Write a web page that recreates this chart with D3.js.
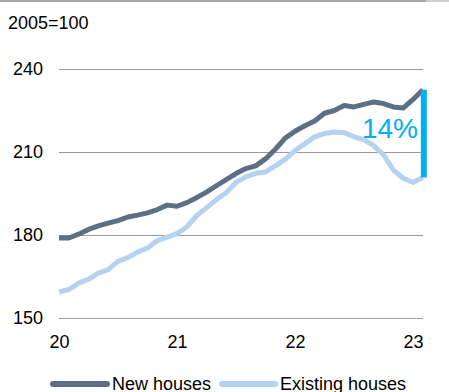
<!DOCTYPE html>
<html>
<head>
<meta charset="utf-8">
<script src="https://cdn.jsdelivr.net/npm/d3@7"></script>
<style>
  html, body { margin: 0; padding: 0; background: #fff; }
  svg { display: block; font-family: "Liberation Sans", Arial, sans-serif; }
</style>
</head>
<body>
<svg id="chart" width="449" height="392"></svg>
<script>
// House price indices, 2005=100, monthly from Jan 2020
const startYear = 2020;
const newHouses = [
  178.9, 178.9, 180.3, 182.0, 183.3, 184.3, 185.2, 186.5, 187.2, 188.0, 189.2, 190.8,
  190.4, 191.7, 193.5, 195.5, 197.8, 200.0, 202.2, 204.0, 205.0, 207.5, 211.0, 215.0,
  217.5, 219.5, 221.2, 224.0, 225.0, 226.8, 226.3, 227.2, 228.1, 227.5, 226.3, 225.9,
  229.0, 232.5
];
const existingHouses = [
  159.4, 160.3, 162.6, 164.0, 166.2, 167.5, 170.5, 171.8, 173.8, 175.3, 178.0, 179.2,
  180.5, 182.9, 187.0, 189.8, 192.8, 195.3, 199.0, 201.0, 202.3, 202.8, 205.0, 207.3,
  210.5, 213.0, 215.5, 216.7, 217.2, 217.0, 215.5, 214.5, 212.3, 209.0, 203.5, 200.5,
  199.0, 200.8
];
const yTicks = [150, 180, 210, 240];
const xTicks = [2020, 2021, 2022, 2023];
const seriesNames = ["New houses", "Existing houses"];
const unitLabel = "2005=100";
const gapLabel = "14%";

const colors = { newH: "#5b6f85", existH: "#b5d2f1", gap: "#00b0f0" };

const svg = d3.select("#chart");
const plotLeft = 59, plotRight = 423, plotTop = 69, plotBottom = 318;

const x = d3.scaleLinear().domain([2020, 2023]).range([plotLeft, 413]);
const y = d3.scaleLinear().domain([150, 240]).range([plotBottom, plotTop]);

const tOf = i => startYear + i / 12;

// top rule
svg.append("line").attr("x1", 0).attr("x2", 426).attr("y1", 1).attr("y2", 1)
  .attr("stroke", "#8a8a8a").attr("stroke-width", 1.6);
svg.append("line").attr("x1", 426).attr("x2", 449).attr("y1", 1).attr("y2", 1)
  .attr("stroke", "#c4c4c4").attr("stroke-width", 1.6);

// unit label
svg.append("text").attr("x", 8).attr("y", 29).attr("font-size", 18).attr("fill", "#000")
  .text(unitLabel);

// y axis with gridlines
const yAxis = svg.append("g").attr("transform", `translate(${plotLeft},0)`)
  .call(d3.axisLeft(y).tickValues(yTicks).tickSize(-(plotRight - plotLeft)).tickPadding(16));
yAxis.select(".domain").remove();
yAxis.selectAll(".tick line").attr("stroke", "#9a9a9a").attr("stroke-width", 1);
yAxis.selectAll(".tick text").attr("font-size", 18).attr("fill", "#000")
  .attr("font-family", "Liberation Sans, Arial, sans-serif");

// x axis labels
const xAxis = svg.append("g").attr("transform", `translate(0,${plotBottom})`)
  .call(d3.axisBottom(x).tickValues(xTicks).tickSize(0).tickPadding(17)
    .tickFormat(d => String(d).slice(2)));
xAxis.select(".domain").remove();
xAxis.selectAll(".tick text").attr("font-size", 18).attr("fill", "#000")
  .attr("font-family", "Liberation Sans, Arial, sans-serif");

const line = d3.line().x((d, i) => x(tOf(i))).y(d => y(d));

svg.append("path").datum(existingHouses).attr("d", line)
  .attr("fill", "none").attr("stroke", colors.existH).attr("stroke-width", 5)
  .attr("stroke-linejoin", "round");
svg.append("path").datum(newHouses).attr("d", line)
  .attr("fill", "none").attr("stroke", colors.newH).attr("stroke-width", 5)
  .attr("stroke-linejoin", "round");

// gap between the latest values
const lastI = newHouses.length - 1;
const gx = x(tOf(lastI)) + 1;
svg.append("line").attr("x1", gx).attr("x2", gx)
  .attr("y1", y(newHouses[lastI])).attr("y2", y(existingHouses[lastI]))
  .attr("stroke", colors.gap).attr("stroke-width", 6);
svg.append("text").attr("x", 418).attr("y", 138).attr("text-anchor", "end")
  .attr("font-size", 28).attr("fill", colors.gap).text(gapLabel);

// legend
const legend = [
  { name: seriesNames[0], color: colors.newH, x1: 53, x2: 107, tx: 112 },
  { name: seriesNames[1], color: colors.existH, x1: 222, x2: 275, tx: 280 }
];
legend.forEach(l => {
  svg.append("line").attr("x1", l.x1).attr("x2", l.x2).attr("y1", 384).attr("y2", 384)
    .attr("stroke", l.color).attr("stroke-width", 6).attr("stroke-linecap", "round");
  svg.append("text").attr("x", l.tx).attr("y", 390).attr("font-size", 18).attr("fill", "#000")
    .text(l.name);
});
</script>
</body>
</html>
